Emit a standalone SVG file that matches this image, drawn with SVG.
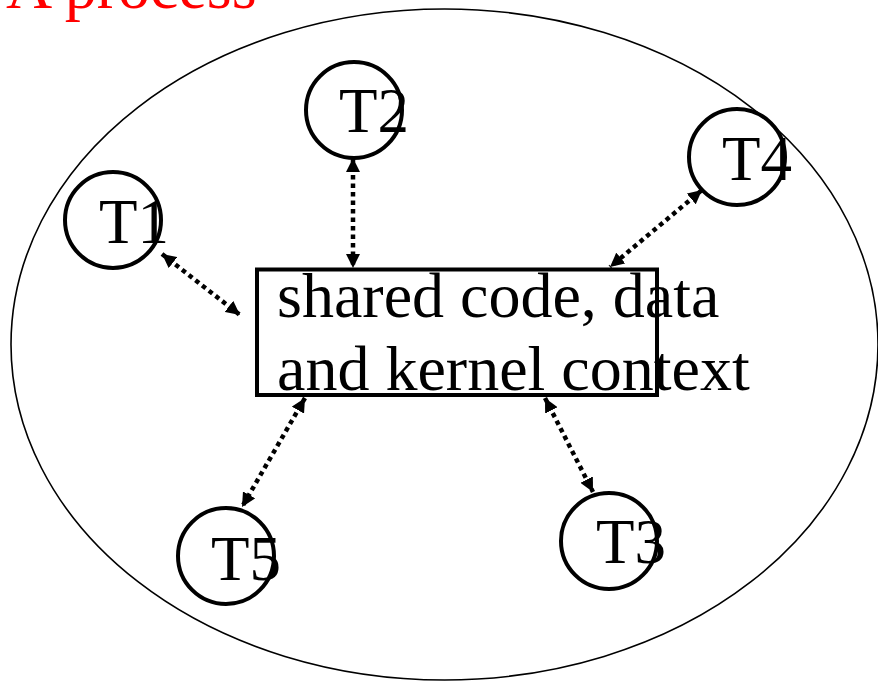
<svg xmlns="http://www.w3.org/2000/svg" width="878" height="681" viewBox="0 0 878 681">
<defs>
<marker id="ah" viewBox="0 0 14 14" markerWidth="14" markerHeight="14" refX="14" refY="7" orient="auto-start-reverse" markerUnits="userSpaceOnUse">
<path d="M0,0 L14,7 L0,14 z" fill="#000"/>
</marker>
<style>
.t{font-family:"Liberation Serif","Times New Roman",serif;font-size:63px;fill:#000}
.c{fill:none;stroke:#000;stroke-width:4}
.e{stroke:#000;stroke-width:4.5;stroke-dasharray:4.5 4;fill:none;marker-start:url(#ah);marker-end:url(#ah)}
</style>
</defs>
<rect width="878" height="681" fill="#fff"/>
<g id="process">
<ellipse cx="444.5" cy="344.5" rx="433.5" ry="335.5" fill="none" stroke="#000" stroke-width="1.6"/>
<text x="6" y="8" class="t" style="fill:#f00;font-size:64px">A process</text>
</g>
<g id="connectors">
<line class="e" x1="162" y1="254" x2="240" y2="315"/>
<line class="e" x1="353" y1="158" x2="353" y2="268"/>
<line class="e" x1="702" y1="190" x2="610" y2="267"/>
<line class="e" x1="305" y1="398" x2="242" y2="507"/>
<line class="e" x1="545" y1="398" x2="593" y2="492"/>
</g>
<g id="shared">
<rect x="257" y="269.5" width="400" height="125.5" class="c"/>
<text x="277" y="317" class="t" style="font-size:64px">shared code, data</text>
<text x="277" y="390" class="t" style="font-size:64px">and kernel context</text>
</g>
<g id="T1"><circle cx="113" cy="220" r="48" class="c"/><text x="99" y="243" class="t">T1</text></g>
<g id="T2"><circle cx="354" cy="110" r="48" class="c"/><text x="339" y="132" class="t">T2</text></g>
<g id="T4"><circle cx="737" cy="157" r="48" class="c"/><text x="722" y="180" class="t">T4</text></g>
<g id="T5"><circle cx="226" cy="556" r="48" class="c"/><text x="211" y="580" class="t">T5</text></g>
<g id="T3"><circle cx="609" cy="541" r="48" class="c"/><text x="596" y="563" class="t">T3</text></g>
</svg>
